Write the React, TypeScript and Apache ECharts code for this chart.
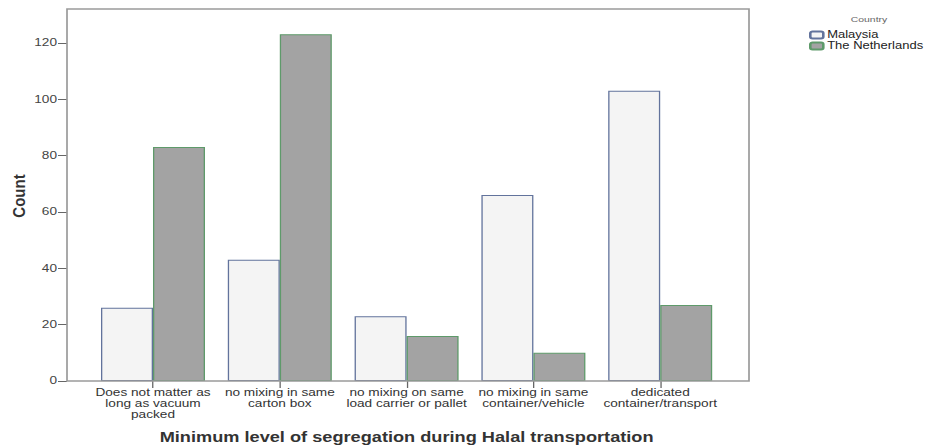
import React, { useEffect, useRef } from "react";
import * as echarts from "echarts";

const categories = [
  "Does not matter as\nlong as vacuum\npacked",
  "no mixing in same\ncarton box",
  "no mixing on same\nload carrier or pallet",
  "no mixing in same\ncontainer/vehicle",
  "dedicated\ncontainer/transport",
];
const malaysia = [26, 43, 23, 66, 103];
const netherlands = [83, 123, 16, 10, 27];
const yTicks = [0, 20, 40, 60, 80, 100, 120];

// the reference is stretched horizontally; draw at a narrower width and stretch
const STRETCH = 1.3;
const W = 928 / STRETCH;
const H = 446;
const sx = (x: number) => x / STRETCH;

export default function App() {
  const ref = useRef<HTMLDivElement>(null);
  useEffect(() => {
    if (!ref.current) return;
    const chart = echarts.init(ref.current, undefined, { renderer: "svg" });
    const font = "'Liberation Sans', Arial, sans-serif";
    const gridLeft = sx(89.6);
    const gridRight = W - sx(723.4);
    chart.setOption({
      animation: false,
      backgroundColor: "#fff",
      legend: {
        orient: "vertical",
        left: sx(809),
        top: 30,
        padding: 0,
        itemWidth: sx(13),
        itemHeight: 7,
        itemGap: 1,
        textStyle: { fontSize: 10, lineHeight: 8, color: "#222", fontFamily: font, padding: [0, 0, 0, -2] },
        data: ["Malaysia", "The Netherlands"],
      },
      grid: { left: gridLeft, right: gridRight, top: 9, bottom: 65, containLabel: false, outerBoundsMode: "none" },
      graphic: [
        {
          type: "rect",
          shape: { x: sx(67), y: 9, width: sx(749) - sx(67), height: 372 },
          style: { fill: "none", stroke: "#9a9a9a", lineWidth: 1.3 },
          z: 100,
        },
        {
          type: "text",
          x: sx(869),
          y: 19,
          style: {
            text: "Country",
            fontSize: 8,
            fontFamily: font,
            fill: "#666",
            align: "center",
            verticalAlign: "middle",
          },
        },
        {
          type: "text",
          x: sx(19),
          y: 196,
          rotation: Math.PI / 2,
          scaleY: 0.8,
          style: {
            text: "Count",
            fontSize: 15,
            fontWeight: "bold",
            fontFamily: font,
            fill: "#333",
            align: "center",
            verticalAlign: "middle",
          },
        },
      ],
      xAxis: {
        type: "category",
        data: categories,
        name: "Minimum level of segregation during Halal transportation",
        nameLocation: "middle",
        nameGap: 49,
        nameTextStyle: { fontSize: 14, fontWeight: "bold", color: "#333", fontFamily: font },
        axisLine: { show: false },
        axisTick: { show: true, alignWithLabel: true, length: 7, lineStyle: { color: "#666" } },
        axisLabel: { fontSize: 10.5, lineHeight: 11, color: "#333", margin: 6, interval: 0, fontFamily: font },
      },
      yAxis: {
        type: "value",
        min: 0,
        max: 132,
        interval: 20,
        offset: gridLeft - sx(67),
        splitLine: { show: false },
        axisLine: { show: false },
        axisTick: { show: true, length: sx(9), lineStyle: { color: "#666" }, customValues: yTicks },
        axisLabel: { fontSize: 10.5, color: "#444", margin: sx(10), fontFamily: font, customValues: yTicks },
      },
      series: [
        {
          name: "Malaysia",
          type: "bar",
          data: malaysia,
          barWidth: sx(52),
          barGap: "0%",
          itemStyle: { color: "#f4f4f4", borderColor: "#62739c", borderWidth: 1 },
        },
        {
          name: "The Netherlands",
          type: "bar",
          data: netherlands,
          barWidth: sx(52),
          itemStyle: { color: "#a3a3a3", borderColor: "#5e9a6a", borderWidth: 1 },
        },
      ],
    });
    return () => chart.dispose();
  }, []);
  return (
    <div
      ref={ref}
      style={{
        width: W,
        height: H,
        position: "absolute",
        left: 0,
        top: 0,
        transform: `scaleX(${STRETCH})`,
        transformOrigin: "0 0",
      }}
    />
  );
}
